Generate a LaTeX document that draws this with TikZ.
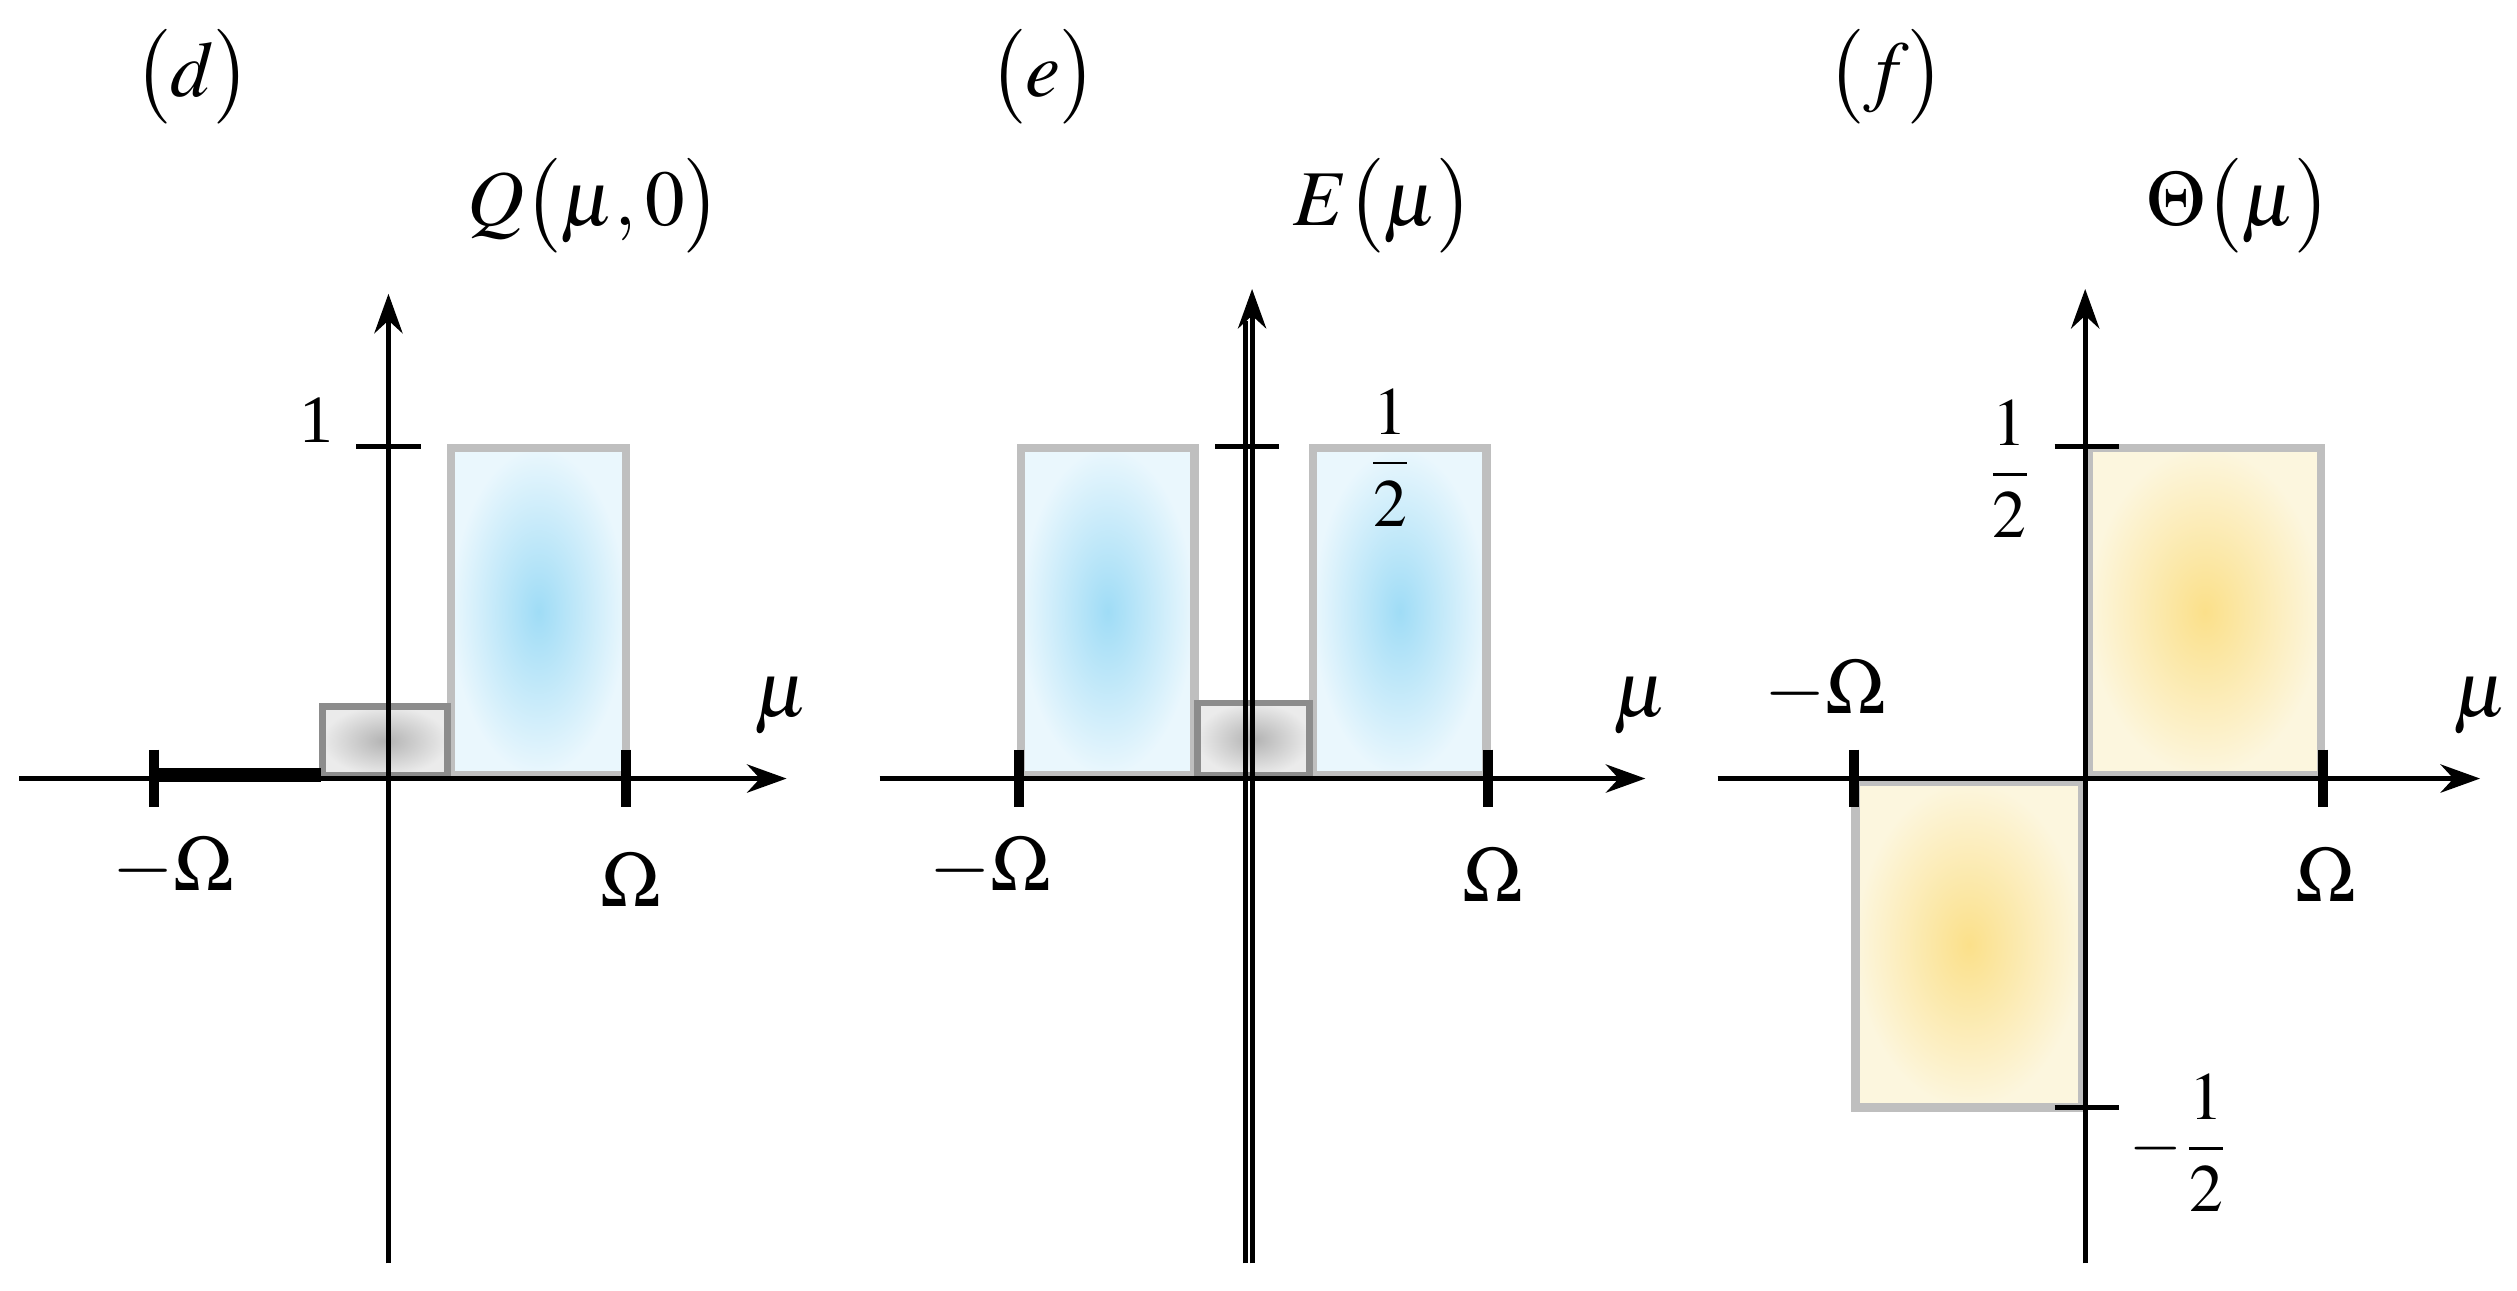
\documentclass[tikz,border=0pt]{standalone}
\usepackage{amsmath}
\usepackage{mathptmx}
\usepackage{fontspec}
\setmainfont{Liberation Serif}
\usetikzlibrary{arrows.meta}
\definecolor{bin}{HTML}{9FDCF6}
\definecolor{bout}{HTML}{EAF7FD}
\definecolor{yin}{HTML}{FBE08A}
\definecolor{yout}{HTML}{FCF6DE}
\begin{document}
\begin{tikzpicture}[x=0.1mm,y=-0.1mm,
  ax/.style={line width=0.9pt,-{Stealth[length=7pt,width=5pt]}},
  tk/.style={line width=1.8pt},
  tk1/.style={line width=0.9pt},
  bbox/.style={draw=black!25,line width=1.5pt,inner color=bin,outer color=bout},
  ybox/.style={draw=black!25,line width=1.5pt,inner color=yin,outer color=yout},
  gbox/.style={draw=black!45,line width=1.2pt,inner color=black!30,outer color=black!8},
  lb/.style={font=\fontsize{14}{16}\selectfont},
  fr/.style={font=\fontsize{12}{14}\selectfont}]
\useasboundingbox (0,0) rectangle (1568,804);
% panel d
\node[lb] (ld) at (120,48) {$\big(d\big)$};
\node[lb] (tq) at (370,128) {$Q\big(\mu,0\big)$};
\filldraw[bbox] (281,279) rectangle (390,483);
\filldraw[gbox] (201,440) rectangle (279,483);
\draw[line width=2.5pt] (96,483) -- (200,483);
\coordinate (dxl) at (12,485); \coordinate (dxr) at (490,485);
\coordinate (dyb) at (242,787); \coordinate (dyt) at (242,183);
\draw[ax] (dxl) -- (dxr);
\draw[ax] (dyb) -- (dyt);
\draw[tk] (96,467) -- (96,503);
\draw[tk] (390,467) -- (390,503);
\draw[tk1] (222,278) -- (262,278);
\node[fr] (d1) at (197,262) {1};
\node[lb] (dmu) at (487,440) {$\mu$};
\node[lb] (dmo) at (108,540) {$-\Omega$};
\node[lb] (dom) at (393,548) {$\Omega$};
% panel e
\node[lb] (le) at (650,48) {$\big(e\big)$};
\node[lb] (te) at (862,128) {$E\big(\mu\big)$};
\filldraw[bbox] (636,279) rectangle (744,483);
\filldraw[bbox] (818,279) rectangle (926,483);
\filldraw[gbox] (746,438) rectangle (816,483);
\coordinate (exl) at (548,485); \coordinate (exr) at (1025,485);
\draw[ax] (exl) -- (exr);
\draw[line width=0.8pt] (776,787) -- (776,200);
\draw[ax] (780,787) -- (780,180);
\draw[tk] (635,467) -- (635,503);
\draw[tk] (927,467) -- (927,503);
\draw[tk1] (757,278) -- (797,278);
\node[fr] (e12) at (866,285) {$\dfrac{1}{2}$};
\node[lb] (emu) at (1022,440) {$\mu$};
\node[lb] (emo) at (617,540) {$-\Omega$};
\node[lb] (eom) at (930,545) {$\Omega$};
% panel f
\node[lb] (lf) at (1175,48) {$\big(f\big)$};
\node[lb] (tf) at (1395,128) {$\Theta\big(\mu\big)$};
\filldraw[ybox] (1301,279) rectangle (1446,483);
\filldraw[ybox] (1156,487) rectangle (1297,690);
\coordinate (fxl) at (1070,485); \coordinate (fxr) at (1545,485);
\draw[ax] (fxl) -- (fxr);
\draw[ax] (1299,787) -- (1299,180);
\draw[tk] (1155,467) -- (1155,503);
\draw[tk] (1447,467) -- (1447,503);
\draw[tk1] (1280,278) -- (1320,278);
\draw[tk1] (1280,690) -- (1320,690);
\node[fr] (f12) at (1252,292) {$\dfrac{1}{2}$};
\node[fr] (fm12) at (1358,712) {$-\dfrac{1}{2}$};
\node[lb] (fmu) at (1545,440) {$\mu$};
\node[lb] (fmo) at (1137,430) {$-\Omega$};
\node[lb] (fom) at (1449,545) {$\Omega$};
\end{tikzpicture}
\end{document}
